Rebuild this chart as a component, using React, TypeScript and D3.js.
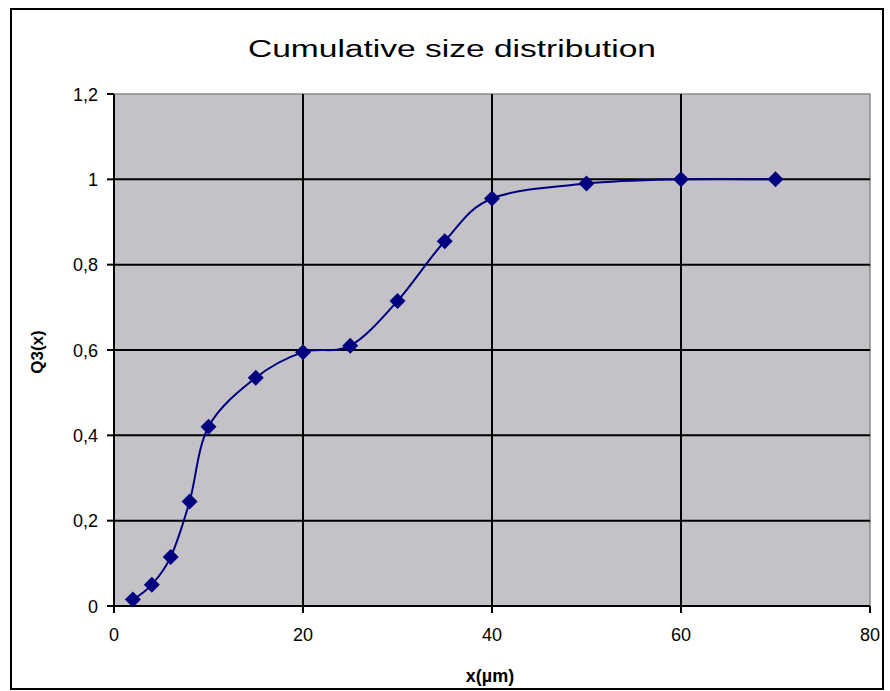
import React from "react";
import * as d3 from "d3";

// Particle size (µm) and cumulative fraction Q3(x)
const sizes = [2, 4, 6, 8, 10, 15, 20, 25, 30, 35, 40, 50, 60, 70];
const cumulative = [0.015, 0.05, 0.115, 0.245, 0.42, 0.535, 0.595, 0.61, 0.715, 0.855, 0.955, 0.99, 1.0, 1.0];
const xTicks = [0, 20, 40, 60, 80];
const yTicks = [0, 0.2, 0.4, 0.6, 0.8, 1.0, 1.2];

const W = 890;
const H = 691;
const plot = { left: 114, right: 870, top: 94, bottom: 606 };
const font = "'Liberation Sans', Arial, sans-serif";

const fmt = (v: number) => (v === 0 || v === 1 ? String(v) : v.toFixed(1).replace(".", ","));

export default function App() {
  const x = d3.scaleLinear().domain([0, 80]).range([plot.left, plot.right]);
  const y = d3.scaleLinear().domain([0, 1.2]).range([plot.bottom, plot.top]);
  const pts: [number, number][] = sizes.map((s, i) => [s, cumulative[i]]);
  const line = d3
    .line<[number, number]>()
    .x((d) => x(d[0]))
    .y((d) => y(d[1]))
    .curve(d3.curveCardinal.tension(0));
  const r = 8;
  const diamond = `M0,${-r}L${r},0L0,${r}L${-r},0Z`;

  return (
    <svg width={W} height={H} style={{ position: "absolute", left: 0, top: 0, background: "#fff" }}>
      {/* outer frame */}
      <rect x={11} y={9} width={872} height={680} fill="#fff" stroke="#000" strokeWidth={2} />
      <text x={452} y={57} textAnchor="middle" fontFamily={font} fontSize={23} textLength={408} lengthAdjust="spacingAndGlyphs" fill="#000">
        Cumulative size distribution
      </text>

      {/* plot area */}
      <rect x={plot.left} y={plot.top} width={plot.right - plot.left} height={plot.bottom - plot.top} fill="#c4c2c6" stroke="#8a8a8a" strokeWidth={1.5} />
      {yTicks.filter((t) => t > 0 && t < 1.2).map((t) => (
        <line key={"gy" + t} x1={plot.left} x2={plot.right} y1={y(t)} y2={y(t)} stroke="#000" strokeWidth={2} />
      ))}
      {xTicks.filter((t) => t > 0 && t < 80).map((t) => (
        <line key={"gx" + t} x1={x(t)} x2={x(t)} y1={plot.top} y2={plot.bottom} stroke="#000" strokeWidth={2} />
      ))}

      {/* axes */}
      <line x1={plot.left} x2={plot.left} y1={plot.top} y2={plot.bottom} stroke="#000" strokeWidth={2} />
      <line x1={plot.left} x2={plot.right} y1={plot.bottom} y2={plot.bottom} stroke="#000" strokeWidth={2} />
      {yTicks.map((t) => (
        <g key={"ty" + t}>
          <line x1={plot.left - 7} x2={plot.left} y1={y(t)} y2={y(t)} stroke="#000" strokeWidth={2} />
          <text x={plot.left - 16} y={y(t) + 6.5} textAnchor="end" fontFamily={font} fontSize={18} fill="#000">
            {fmt(t)}
          </text>
        </g>
      ))}
      {xTicks.map((t) => (
        <g key={"tx" + t}>
          <line x1={x(t)} x2={x(t)} y1={plot.bottom} y2={plot.bottom + 7} stroke="#000" strokeWidth={2} />
          <text x={x(t)} y={plot.bottom + 35} textAnchor="middle" fontFamily={font} fontSize={18} fill="#000">
            {t}
          </text>
        </g>
      ))}

      {/* axis titles */}
      <text x={490} y={682} textAnchor="middle" fontFamily={font} fontSize={18} fontWeight="bold" fill="#000">
        x(µm)
      </text>
      <text transform={`translate(43,352) rotate(-90)`} textAnchor="middle" fontFamily={font} fontSize={17} fontWeight="bold" fill="#000">
        Q3(x)
      </text>

      {/* series */}
      <path d={line(pts) || ""} fill="none" stroke="#000080" strokeWidth={2} />
      {pts.map((d, i) => (
        <path key={i} d={diamond} transform={`translate(${x(d[0])},${y(d[1])})`} fill="#000080" />
      ))}
    </svg>
  );
}
